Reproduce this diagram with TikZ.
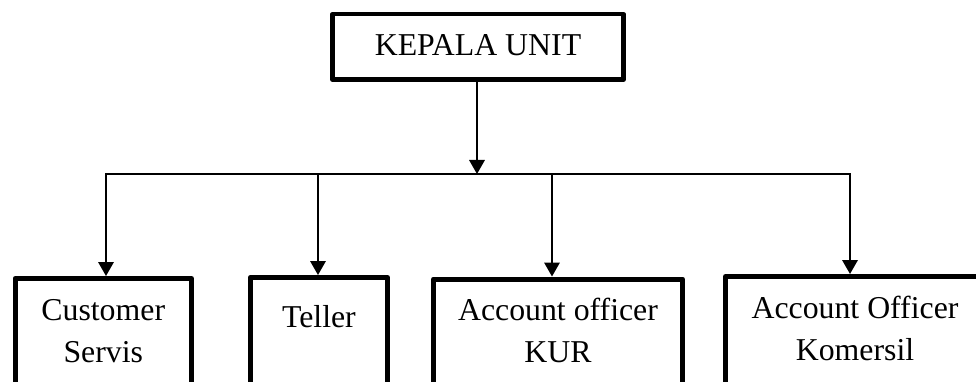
\documentclass[tikz,border=0pt]{standalone}
\usepackage{fontspec}
\setmainfont{Liberation Serif}
\usetikzlibrary{arrows.meta}
\newcommand\twolines[2]{\vtop{\baselineskip=42pt\halign{\hfil##\hfil\cr#1\cr#2\cr}}}
\begin{document}
\begin{tikzpicture}[x=1pt,y=-1pt,
  every node/.style={font=\fontsize{31.8}{38}\selectfont},
  box/.style={draw, line width=5pt, line join=round, inner sep=0pt, anchor=north, text depth=200pt},
  topbox/.style={draw, line width=4.5pt, line join=round, inner sep=0pt, anchor=north},
  conn/.style={line width=1.8pt},
  arr/.style={conn, -{Triangle[width=15.5pt,length=14pt]}}]
\useasboundingbox (0,0) rectangle (976,382);
\clip (0,0) rectangle (976,382);
% boxes
\node[topbox, minimum width=291pt, text height=41pt, text depth=24.5pt] (ku) at (478,12) {KEPALA UNIT};
\node[box, minimum width=176.5pt, text height=41.5pt] (cs) at (103.25,276) {\twolines{Customer}{Servis}};
\node[box, minimum width=137.3pt, text height=49.5pt] (te) at (318.9,275) {Teller};
\node[box, minimum width=249pt, text height=41pt] (kur) at (558,276.5) {\twolines{Account officer}{KUR}};
\node[box, minimum width=259pt, text height=41.5pt] (kom) at (855,274) {\twolines{Account Officer}{Komersil}};
% bus coordinates
\coordinate (bus) at (477,174);
\coordinate (bL) at (106,174);
\coordinate (bT) at (318,174);
\coordinate (bK) at (552,174);
\coordinate (bR) at (850,174);
% connectors
\draw[arr] (bus |- ku.south) -- (bus);
\draw[conn, line cap=rect] (bL) -- (bR);
\draw[arr] (bL) -- (bL |- cs.north);
\draw[arr] (bT) -- (bT |- te.north);
\draw[arr] (bK) -- (bK |- kur.north);
\draw[arr] (bR) -- (bR |- kom.north);
\end{tikzpicture}
\end{document}
